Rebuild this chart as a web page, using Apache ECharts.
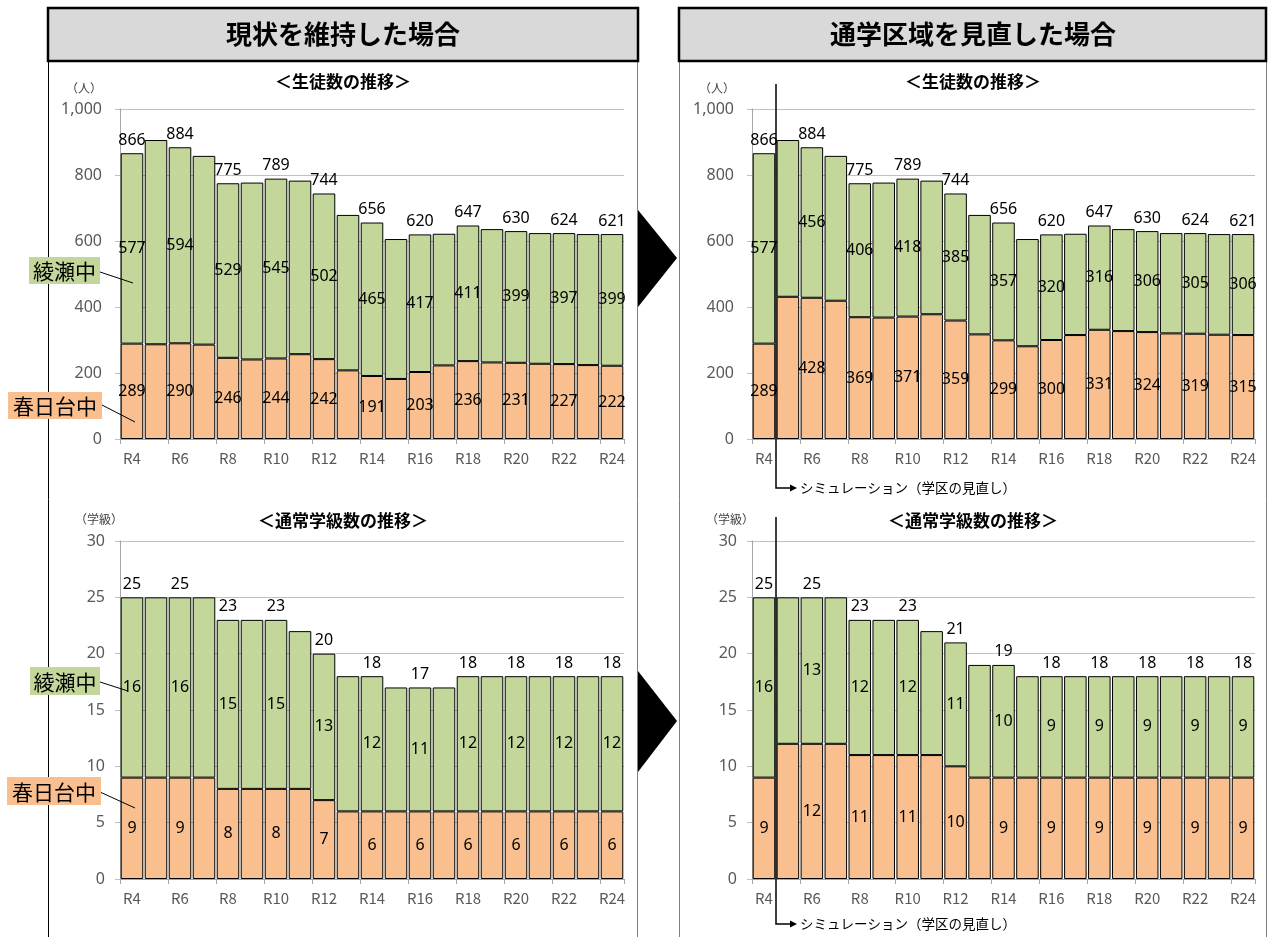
<!DOCTYPE html>
<html>
<head>
<meta charset="utf-8">
<script src="https://cdn.jsdelivr.net/npm/echarts@6.0.0/dist/echarts.min.js"></script>
<style>
  html, body { margin: 0; padding: 0; background: #fff; }
  #main { width: 1268px; height: 937px; }
</style>
</head>
<body>
<div id="main"></div>
<script>
// 年度
var years = ['R4', 'R5', 'R6', 'R7', 'R8', 'R9', 'R10', 'R11', 'R12', 'R13', 'R14',
  'R15', 'R16', 'R17', 'R18', 'R19', 'R20', 'R21', 'R22', 'R23', 'R24']

// 生徒数（現状を維持した場合）
var kasugaStudentsNow = [289, 287, 290, 286, 246, 241, 244, 257, 242, 208, 191, 182, 203, 223, 236, 232, 231, 228, 227, 224, 222]
var ayaseStudentsNow = [577, 619, 594, 572, 529, 536, 545, 526, 502, 471, 465, 424, 417, 399, 411, 404, 399, 396, 397, 397, 399]

// 生徒数（通学区域を見直した場合）
var kasugaStudentsNew = [289, 431, 428, 419, 369, 368, 371, 378, 359, 317, 299, 281, 300, 315, 331, 327, 324, 320, 319, 316, 315]
var ayaseStudentsNew = [577, 475, 456, 439, 406, 409, 418, 405, 385, 362, 357, 325, 320, 307, 316, 309, 306, 304, 305, 305, 306]

// 通常学級数（現状を維持した場合）
var kasugaClassesNow = [9, 9, 9, 9, 8, 8, 8, 8, 7, 6, 6, 6, 6, 6, 6, 6, 6, 6, 6, 6, 6]
var ayaseClassesNow = [16, 16, 16, 16, 15, 15, 15, 14, 13, 12, 12, 11, 11, 11, 12, 12, 12, 12, 12, 12, 12]

// 通常学級数（通学区域を見直した場合）
var kasugaClassesNew = [9, 12, 12, 12, 11, 11, 11, 11, 10, 9, 9, 9, 9, 9, 9, 9, 9, 9, 9, 9, 9]
var ayaseClassesNew = [16, 13, 13, 13, 12, 12, 12, 11, 11, 10, 10, 9, 9, 9, 9, 9, 9, 9, 9, 9, 9]

var ORANGE = '#fabf8f'
var GREEN = '#c4d79b'
var NUM_FONT = '"Noto Sans", sans-serif'
var JP_FONT = '"Noto Sans CJK JP", sans-serif'

var myChart = echarts.init(document.getElementById('main'))

// 偶数年度だけラベルを出す
function evenOnly (p) {
  return p.dataIndex % 2 === 0 ? p.value : ''
}

function stackSeries (gi, low, high) {
  var total = low.map(function (v, i) { return v + high[i] })
  var segLabel = {
    show: true, position: 'inside', color: '#000', fontSize: 16,
    fontFamily: NUM_FONT, textBorderWidth: 0, formatter: evenOnly
  }
  return [
    {
      name: '春日台中', type: 'bar', xAxisIndex: gi, yAxisIndex: gi, stack: 'st' + gi,
      barCategoryGap: '6%', barGap: '-100%',
      itemStyle: { color: ORANGE, borderColor: '#000', borderWidth: 1 },
      label: segLabel,
      data: low
    },
    {
      name: '綾瀬中', type: 'bar', xAxisIndex: gi, yAxisIndex: gi, stack: 'st' + gi,
      barCategoryGap: '6%', barGap: '-100%',
      itemStyle: { color: GREEN, borderColor: '#000', borderWidth: 1 },
      label: segLabel,
      data: high
    },
    {
      name: '合計', type: 'bar', xAxisIndex: gi, yAxisIndex: gi,
      barCategoryGap: '6%', barGap: '-100%', silent: true, z: 1,
      itemStyle: { color: 'rgba(0,0,0,0)' },
      label: {
        show: true, position: 'top', distance: 5, color: '#000', fontSize: 16,
        fontFamily: NUM_FONT, formatter: evenOnly
      },
      data: total
    }
  ]
}

function xAxis (gi) {
  return {
    gridIndex: gi, type: 'category', data: years,
    axisLine: { lineStyle: { color: '#a6a6a6' } },
    axisTick: { show: true, interval: 1, length: 5, lineStyle: { color: '#a6a6a6' } },
    axisLabel: { interval: 1, color: '#595959', fontSize: 15, margin: 12, fontFamily: JP_FONT }
  }
}

function yAxis (gi, max, step, margin) {
  return {
    gridIndex: gi, type: 'value', min: 0, max: max, interval: step,
    axisLine: { show: true, lineStyle: { color: '#a6a6a6' } },
    axisTick: { show: true, length: 5, lineStyle: { color: '#bfbfbf' } },
    splitLine: { lineStyle: { color: '#c0c0c0' } },
    axisLabel: { color: '#595959', fontSize: 16, margin: margin, fontFamily: NUM_FONT }
  }
}

function txt (x, y, text, size, opt) {
  opt = opt || {}
  return {
    type: 'text', z: opt.z || 50, silent: true,
    style: {
      x: x, y: y, text: text, fill: opt.fill || '#000',
      fontSize: size, fontWeight: opt.bold ? 'bold' : 'normal',
      fontFamily: JP_FONT,
      textAlign: opt.align || 'center', textVerticalAlign: 'middle'
    }
  }
}

function line (points, width) {
  return {
    type: 'polyline', z: 60, silent: true,
    shape: { points: points },
    style: { stroke: '#000', lineWidth: width || 1, fill: null }
  }
}

function tag (x, y, w, h, text, color) {
  return [
    { type: 'rect', z: 90, silent: true, shape: { x: x, y: y, width: w, height: h }, style: { fill: color } },
    txt(x + w / 2, y + h / 2 + 1, text, 21, { z: 91 })
  ]
}

var graphic = [
  // 見出し
  { type: 'rect', z: 10, shape: { x: 48, y: 8, width: 590, height: 53 }, style: { fill: '#d9d9d9', stroke: '#000', lineWidth: 2.5 } },
  { type: 'rect', z: 10, shape: { x: 679, y: 8, width: 587, height: 53 }, style: { fill: '#d9d9d9', stroke: '#000', lineWidth: 2.5 } },
  txt(343, 34, '現状を維持した場合', 26, { bold: true }),
  txt(973, 34, '通学区域を見直した場合', 26, { bold: true }),
  // 枠線
  line([[48.5, 62], [48.5, 937]]),
  { type: 'polyline', z: 5, shape: { points: [[637.5, 62], [637.5, 937]] }, style: { stroke: '#7f7f7f', lineWidth: 1 } },
  { type: 'polyline', z: 5, shape: { points: [[679.5, 62], [679.5, 937]] }, style: { stroke: '#7f7f7f', lineWidth: 1 } },
  { type: 'polyline', z: 5, shape: { points: [[1266.5, 62], [1266.5, 937]] }, style: { stroke: '#7f7f7f', lineWidth: 1 } },
  // 矢印
  { type: 'polygon', z: 20, shape: { points: [[638, 210], [677, 258], [638, 307]] }, style: { fill: '#000' } },
  { type: 'polygon', z: 20, shape: { points: [[638, 671], [677, 721], [638, 772]] }, style: { fill: '#000' } },
  // グラフタイトル
  txt(343, 82, '＜生徒数の推移＞', 17, { bold: true }),
  txt(973, 82, '＜生徒数の推移＞', 17, { bold: true }),
  txt(343, 521, '＜通常学級数の推移＞', 17, { bold: true }),
  txt(973, 521, '＜通常学級数の推移＞', 17, { bold: true }),
  // 単位
  txt(84, 88, '（人）', 12, { fill: '#404040' }),
  txt(717, 88, '（人）', 12, { fill: '#404040' }),
  txt(99, 519, '（学級）', 12, { fill: '#404040' }),
  txt(730, 519, '（学級）', 12, { fill: '#404040' }),
  // シミュレーション開始
  line([[776, 84], [776, 488], [792, 488]], 1.5),
  { type: 'polygon', z: 60, shape: { points: [[790, 484.5], [797, 488], [790, 491.5]] }, style: { fill: '#000' } },
  txt(800, 488, 'シミュレーション（学区の見直し）', 13.5, { align: 'left' }),
  line([[776, 517], [776, 924], [792, 924]], 1.5),
  { type: 'polygon', z: 60, shape: { points: [[790, 920.5], [797, 924], [790, 927.5]] }, style: { fill: '#000' } },
  txt(800, 924, 'シミュレーション（学区の見直し）', 13.5, { align: 'left' }),
  // 学校名の引き出し線
  line([[100, 272], [133, 283]]),
  line([[102, 405], [135, 422]]),
  line([[100, 682], [128, 691]]),
  line([[100, 792], [135, 808]])
]
  .concat(tag(29, 257, 71, 27, '綾瀬中', GREEN))
  .concat(tag(8, 392, 94, 27, '春日台中', ORANGE))
  .concat(tag(30, 667, 70, 28, '綾瀬中', GREEN))
  .concat(tag(7, 777, 94, 28, '春日台中', ORANGE))

myChart.setOption({
  animation: false,
  textStyle: { fontFamily: NUM_FONT },
  grid: [
    { left: 120, top: 109, width: 504, height: 330 },
    { left: 752, top: 109, width: 503, height: 330 },
    { left: 120, top: 541, width: 504, height: 338 },
    { left: 752, top: 541, width: 503, height: 338 }
  ],
  xAxis: [xAxis(0), xAxis(1), xAxis(2), xAxis(3)],
  yAxis: [yAxis(0, 1000, 200, 18), yAxis(1, 1000, 200, 18), yAxis(2, 30, 5, 15), yAxis(3, 30, 5, 15)],
  series: []
    .concat(stackSeries(0, kasugaStudentsNow, ayaseStudentsNow))
    .concat(stackSeries(1, kasugaStudentsNew, ayaseStudentsNew))
    .concat(stackSeries(2, kasugaClassesNow, ayaseClassesNow))
    .concat(stackSeries(3, kasugaClassesNew, ayaseClassesNew)),
  graphic: graphic
})
</script>
</body>
</html>
